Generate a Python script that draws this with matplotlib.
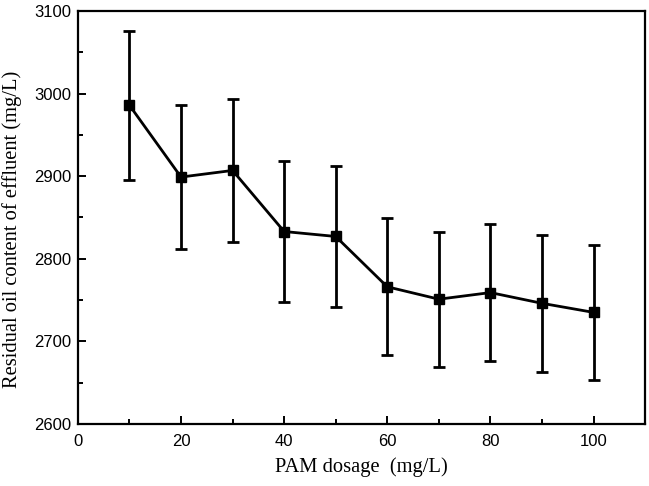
import matplotlib
matplotlib.use("Agg")
import matplotlib.pyplot as plt
from matplotlib.ticker import MultipleLocator

dosage = [10, 20, 30, 40, 50, 60, 70, 80, 90, 100]
oil = [2986, 2899, 2907, 2833, 2827, 2766, 2751, 2759, 2746, 2735]
err = [90, 87, 87, 85, 85, 83, 82, 83, 83, 82]

fig = plt.figure(figsize=(6.49, 4.86), dpi=100)
ax = fig.add_axes([0.120, 0.128, 0.874, 0.849])
ax.errorbar(dosage, oil, yerr=err, color='black', marker='s', markersize=7.5,
            linewidth=2.0, elinewidth=2.0, capsize=4, capthick=2.0)
ax.set_xlim(0, 110)
ax.set_ylim(2600, 3100)
ax.xaxis.set_major_locator(MultipleLocator(20))
ax.xaxis.set_minor_locator(MultipleLocator(10))
ax.yaxis.set_major_locator(MultipleLocator(100))
ax.yaxis.set_minor_locator(MultipleLocator(50))
ax.tick_params(which='both', direction='in', width=1.4, top=False, right=False)
ax.tick_params(which='major', length=6)
ax.tick_params(which='minor', length=3.5)
ax.tick_params(axis='x', pad=7)
ax.tick_params(axis='y', pad=5)
for s in ax.spines.values():
    s.set_linewidth(1.6)
for lab in ax.get_xticklabels() + ax.get_yticklabels():
    lab.set_fontfamily('Liberation Sans')
    lab.set_fontsize(12)
ax.set_xlabel('PAM dosage  (mg/L)', fontfamily='Liberation Serif', fontsize=14.8)
ax.set_ylabel('Residual oil content of effluent (mg/L)', fontfamily='Liberation Serif', fontsize=14.8)
ax.xaxis.set_label_coords(0.5, -0.082)
ax.yaxis.set_label_coords(-0.099, 0.47)
fig.savefig('out.png', dpi=100)
